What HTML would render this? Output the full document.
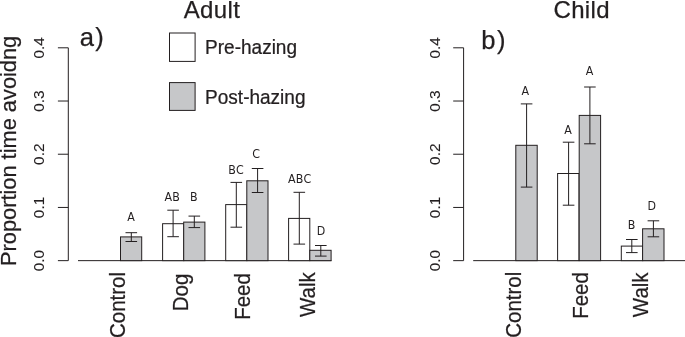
<!DOCTYPE html>
<html lang="en">
<head>
<meta charset="utf-8">
<title>Proportion time avoiding - Adult / Child</title>
<style>
html,body{margin:0;padding:0;background:#fff;}
body{width:685px;height:337px;overflow:hidden;}
svg{display:block;will-change:transform;}
text{font-family:"Liberation Sans",sans-serif;fill:#231f20;stroke:#231f20;stroke-width:0.25px;}
.ln line,.ln rect{stroke:#231f20;stroke-width:1.0;fill-opacity:1;}
.ln line{fill:none;}
.ti{font-size:24.0px;letter-spacing:0.35px;}
.pn{font-size:25.6px;}
.lg{font-size:19.45px;}
.yl{font-size:21.8px;}
.xl{font-size:21.2px;}
.tk{font-size:15.4px;stroke-width:0.1px;}
.sg{font-family:"DejaVu Sans Condensed","DejaVu Sans","Liberation Sans",sans-serif;font-size:12.3px;letter-spacing:0.3px;stroke:none;}
</style>
</head>
<body>
<svg width="685" height="337" viewBox="0 0 685 337">
<rect x="0" y="0" width="685" height="337" fill="#fff"/>
<g class="ln">
<line x1="68.30" y1="47.81" x2="68.30" y2="260.65"/>
<line x1="57.90" y1="260.65" x2="68.30" y2="260.65"/>
<text transform="translate(44.30 260.65) rotate(-90)" class="tk" text-anchor="middle">0.0</text>
<line x1="57.90" y1="207.44" x2="68.30" y2="207.44"/>
<text transform="translate(44.30 207.44) rotate(-90)" class="tk" text-anchor="middle">0.1</text>
<line x1="57.90" y1="154.23" x2="68.30" y2="154.23"/>
<text transform="translate(44.30 154.23) rotate(-90)" class="tk" text-anchor="middle">0.2</text>
<line x1="57.90" y1="101.02" x2="68.30" y2="101.02"/>
<text transform="translate(44.30 101.02) rotate(-90)" class="tk" text-anchor="middle">0.3</text>
<line x1="57.90" y1="47.81" x2="68.30" y2="47.81"/>
<text transform="translate(44.30 47.81) rotate(-90)" class="tk" text-anchor="middle">0.4</text>
<line x1="78.00" y1="260.65" x2="331.40" y2="260.65"/>
<rect x="120.50" y="236.90" width="21.20" height="23.75" fill="#c6c7c9"/>
<rect x="162.60" y="223.70" width="21.20" height="36.95" fill="#fff"/>
<rect x="183.70" y="222.10" width="21.20" height="38.55" fill="#c6c7c9"/>
<rect x="225.70" y="204.60" width="21.20" height="56.05" fill="#fff"/>
<rect x="246.80" y="180.80" width="21.20" height="79.85" fill="#c6c7c9"/>
<rect x="288.60" y="218.40" width="21.20" height="42.25" fill="#fff"/>
<rect x="309.80" y="250.30" width="21.30" height="10.35" fill="#c6c7c9"/>
<line x1="131.30" y1="232.70" x2="131.30" y2="241.50"/>
<line x1="125.50" y1="232.70" x2="137.10" y2="232.70"/>
<line x1="125.50" y1="241.50" x2="137.10" y2="241.50"/>
<line x1="173.10" y1="210.20" x2="173.10" y2="236.70"/>
<line x1="167.30" y1="210.20" x2="178.90" y2="210.20"/>
<line x1="167.30" y1="236.70" x2="178.90" y2="236.70"/>
<line x1="194.30" y1="216.10" x2="194.30" y2="227.60"/>
<line x1="188.50" y1="216.10" x2="200.10" y2="216.10"/>
<line x1="188.50" y1="227.60" x2="200.10" y2="227.60"/>
<line x1="236.30" y1="182.40" x2="236.30" y2="227.20"/>
<line x1="230.50" y1="182.40" x2="242.10" y2="182.40"/>
<line x1="230.50" y1="227.20" x2="242.10" y2="227.20"/>
<line x1="257.60" y1="168.50" x2="257.60" y2="192.50"/>
<line x1="251.80" y1="168.50" x2="263.40" y2="168.50"/>
<line x1="251.80" y1="192.50" x2="263.40" y2="192.50"/>
<line x1="299.30" y1="192.30" x2="299.30" y2="244.10"/>
<line x1="293.50" y1="192.30" x2="305.10" y2="192.30"/>
<line x1="293.50" y1="244.10" x2="305.10" y2="244.10"/>
<line x1="320.80" y1="245.50" x2="320.80" y2="256.10"/>
<line x1="315.00" y1="245.50" x2="326.60" y2="245.50"/>
<line x1="315.00" y1="256.10" x2="326.60" y2="256.10"/>
<rect x="169.5" y="33.0" width="25.6" height="28.4" fill="#fff"/>
<rect x="169.5" y="82.6" width="25.6" height="27.8" fill="#c6c7c9"/>
<line x1="463.60" y1="47.81" x2="463.60" y2="260.65"/>
<line x1="453.20" y1="260.65" x2="463.60" y2="260.65"/>
<text transform="translate(440.00 260.65) rotate(-90)" class="tk" text-anchor="middle">0.0</text>
<line x1="453.20" y1="207.44" x2="463.60" y2="207.44"/>
<text transform="translate(440.00 207.44) rotate(-90)" class="tk" text-anchor="middle">0.1</text>
<line x1="453.20" y1="154.23" x2="463.60" y2="154.23"/>
<text transform="translate(440.00 154.23) rotate(-90)" class="tk" text-anchor="middle">0.2</text>
<line x1="453.20" y1="101.02" x2="463.60" y2="101.02"/>
<text transform="translate(440.00 101.02) rotate(-90)" class="tk" text-anchor="middle">0.3</text>
<line x1="453.20" y1="47.81" x2="463.60" y2="47.81"/>
<text transform="translate(440.00 47.81) rotate(-90)" class="tk" text-anchor="middle">0.4</text>
<line x1="473.20" y1="260.65" x2="686.00" y2="260.65"/>
<rect x="515.80" y="145.30" width="21.40" height="115.35" fill="#c6c7c9"/>
<rect x="557.60" y="173.50" width="21.40" height="87.15" fill="#fff"/>
<rect x="579.20" y="115.40" width="21.40" height="145.25" fill="#c6c7c9"/>
<rect x="621.30" y="246.10" width="21.40" height="14.55" fill="#fff"/>
<rect x="642.60" y="228.80" width="21.40" height="31.85" fill="#c6c7c9"/>
<line x1="526.60" y1="103.90" x2="526.60" y2="187.10"/>
<line x1="520.80" y1="103.90" x2="532.40" y2="103.90"/>
<line x1="520.80" y1="187.10" x2="532.40" y2="187.10"/>
<line x1="568.60" y1="142.20" x2="568.60" y2="205.20"/>
<line x1="562.80" y1="142.20" x2="574.40" y2="142.20"/>
<line x1="562.80" y1="205.20" x2="574.40" y2="205.20"/>
<line x1="589.90" y1="87.00" x2="589.90" y2="143.80"/>
<line x1="584.10" y1="87.00" x2="595.70" y2="87.00"/>
<line x1="584.10" y1="143.80" x2="595.70" y2="143.80"/>
<line x1="631.80" y1="239.50" x2="631.80" y2="252.60"/>
<line x1="626.00" y1="239.50" x2="637.60" y2="239.50"/>
<line x1="626.00" y1="252.60" x2="637.60" y2="252.60"/>
<line x1="653.40" y1="220.80" x2="653.40" y2="236.80"/>
<line x1="647.60" y1="220.80" x2="659.20" y2="220.80"/>
<line x1="647.60" y1="236.80" x2="659.20" y2="236.80"/>
</g>
<text x="212.00" y="17.80" class="ti" text-anchor="middle">Adult</text>
<text x="581.70" y="18.00" class="ti" text-anchor="middle">Child</text>
<text x="79.80" y="46.20" class="pn" text-anchor="start" style="letter-spacing:1.2px">a)</text>
<text x="481.30" y="48.80" class="pn" text-anchor="start" style="letter-spacing:1.5px">b)</text>
<text transform="translate(205.10 54.20) scale(0.978 1)" class="lg" text-anchor="start">Pre-hazing</text>
<text transform="translate(205.10 104.20) scale(0.978 1)" class="lg" text-anchor="start">Post-hazing</text>
<text transform="translate(16.20 266.00) rotate(-90)" class="yl" text-anchor="start">Proportion time avoidng</text>
<text transform="translate(124.90 272.00) rotate(-90) scale(0.967 1)" class="xl" text-anchor="end">Control</text>
<text transform="translate(187.50 273.70) rotate(-90) scale(0.967 1)" class="xl" text-anchor="end">Dog</text>
<text transform="translate(249.80 273.10) rotate(-90) scale(0.967 1)" class="xl" text-anchor="end">Feed</text>
<text transform="translate(314.60 272.30) rotate(-90) scale(0.967 1)" class="xl" text-anchor="end">Walk</text>
<text transform="translate(520.90 271.70) rotate(-90) scale(0.967 1)" class="xl" text-anchor="end">Control</text>
<text transform="translate(587.60 272.10) rotate(-90) scale(0.967 1)" class="xl" text-anchor="end">Feed</text>
<text transform="translate(647.80 272.40) rotate(-90) scale(0.967 1)" class="xl" text-anchor="end">Walk</text>
<text x="131.30" y="220.60" class="sg" text-anchor="middle">A</text>
<text x="172.30" y="200.90" class="sg" text-anchor="middle">AB</text>
<text x="193.90" y="200.90" class="sg" text-anchor="middle">B</text>
<text x="236.10" y="174.00" class="sg" text-anchor="middle">BC</text>
<text x="256.30" y="157.90" class="sg" text-anchor="middle">C</text>
<text x="299.80" y="182.50" class="sg" text-anchor="middle">ABC</text>
<text x="321.20" y="235.40" class="sg" text-anchor="middle">D</text>
<text x="525.50" y="94.50" class="sg" text-anchor="middle">A</text>
<text x="568.30" y="134.00" class="sg" text-anchor="middle">A</text>
<text x="589.70" y="75.20" class="sg" text-anchor="middle">A</text>
<text x="631.80" y="228.50" class="sg" text-anchor="middle">B</text>
<text x="651.80" y="210.40" class="sg" text-anchor="middle">D</text>
</svg>
</body>
</html>
